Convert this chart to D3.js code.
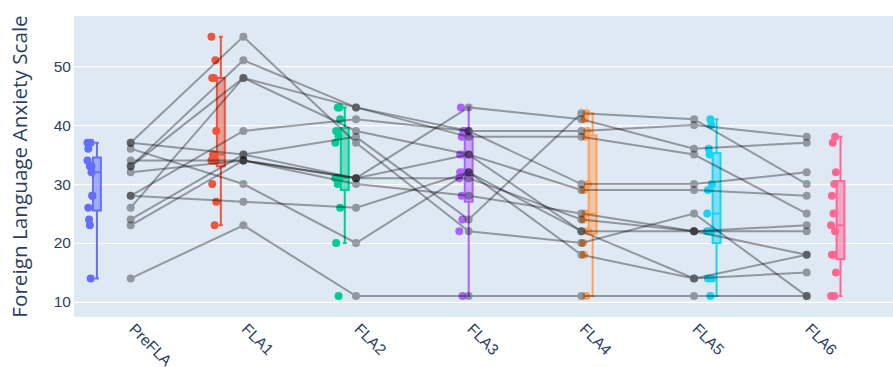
<!DOCTYPE html>
<html>
<head>
<meta charset="utf-8">
<script src="https://cdn.jsdelivr.net/npm/d3@7"></script>
<style>
body { margin: 0; background: #fff; }
svg { display: block; font-family: "Open Sans", verdana, arial, sans-serif; }
</style>
</head>
<body>
<svg id="chart" width="893" height="367"></svg>
<script>
const categories = ['PreFLA', 'FLA1', 'FLA2', 'FLA3', 'FLA4', 'FLA5', 'FLA6']
// one score per subject, same subject order in every array
const preFLA = [37, 33, 33, 26, 28, 37, 24, 34, 32, 23, 36, 28, 14]
const fla1 = [55, 51, 48, 48, 39, 35, 35, 34, 34, 34, 30, 27, 23]
const fla2 = [37, 43, 43, 39, 41, 38, 31, 31, 31, 30, 20, 26, 11]
const fla3 = [22, 39, 38, 35, 39, 24, 43, 31, 35, 28, 32, 32, 11]
const fla4 = [20, 39, 38, 29, 30, 42, 41, 24, 22, 25, 18, 22, 11]
const fla5 = [25, 40, 35, 29, 30, 41, 36, 22, 22, 22, 14, 14, 11]
const fla6 = [11, 38, 25, 28, 32, 30, 37, 23, 22, 18, 18, 15, 11]
const yTicks = [10, 20, 30, 40, 50]
const colors = ['#636efa', '#EF553B', '#00cc96', '#ab63fa', '#FFA15A', '#19d3f3', '#FF6692']

const series = [preFLA, fla1, fla2, fla3, fla4, fla5, fla6]
const nSubjects = preFLA.length

const svg = d3.select('#chart')
const plot = { left: 74, right: 893, top: 16, bottom: 317 }

const x = d3.scalePoint()
    .domain(categories)
    .range([130.7, 806.7])

const y = d3.scaleLinear()
    .domain([7.45, 58.5])
    .range([plot.bottom, plot.top])

svg.append('rect')
    .attr('x', plot.left)
    .attr('y', plot.top)
    .attr('width', plot.right - plot.left)
    .attr('height', plot.bottom - plot.top)
    .attr('fill', '#DFE9F4')

// y grid + labels
const yAxis = svg.append('g')
    .attr('transform', `translate(${plot.left}, 0)`)
    .call(d3.axisLeft(y).tickValues(yTicks).tickSize(-(plot.right - plot.left)).tickPadding(3))
yAxis.select('.domain').remove()
yAxis.selectAll('.tick line').attr('stroke', '#fff').attr('stroke-width', 1.2)
yAxis.selectAll('.tick text')
    .attr('fill', '#2a3f5f')
    .style('font-size', '15.5px')

// x labels, rotated 45deg
const xAxis = svg.append('g')
    .attr('transform', `translate(0, ${plot.bottom})`)
    .call(d3.axisBottom(x).tickSize(0))
xAxis.select('.domain').remove()
xAxis.selectAll('.tick text')
    .attr('fill', '#2a3f5f')
    .style('font-size', '15.5px')
    .attr('text-anchor', 'start')
    .attr('x', 0)
    .attr('y', 0)
    .attr('dy', 0)
    .attr('transform', 'translate(-3, 13) rotate(45)')

svg.append('text')
    .attr('transform', `translate(26.5, ${(plot.top + plot.bottom) / 2}) rotate(-90)`)
    .attr('text-anchor', 'middle')
    .attr('fill', '#2a3f5f')
    .style('font-size', '20.7px')
    .text('Foreign Language Anxiety Scale')

// plotly-style "linear" quartiles
const interp = (arr, p) => {
    const n = p * arr.length - 0.5
    if (n <= 0) return arr[0]
    if (n >= arr.length - 1) return arr[arr.length - 1]
    const f = n - Math.floor(n)
    return (1 - f) * arr[Math.floor(n)] + f * arr[Math.ceil(n)]
}

const step = x.step()
const slot = step * 0.7 / categories.length
const boxW = slot * 0.7

series.forEach((vals, k) => {
    const sorted = vals.slice().sort((a, b) => a - b)
    const q1 = interp(sorted, 0.25)
    const med = interp(sorted, 0.5)
    const q3 = interp(sorted, 0.75)
    const iqr = q3 - q1
    const lo = d3.min(sorted.filter(v => v >= q1 - 1.5 * iqr))
    const hi = d3.max(sorted.filter(v => v <= q3 + 1.5 * iqr))
    const cx = x(categories[k]) + (k - 3) * slot
    const c = colors[k]
    const g = svg.append('g')

    g.append('path')
        .attr('d', `M${cx},${y(q3)}V${y(hi)}M${cx - boxW / 4},${y(hi)}H${cx + boxW / 4}` +
            `M${cx},${y(q1)}V${y(lo)}M${cx - boxW / 4},${y(lo)}H${cx + boxW / 4}`)
        .attr('stroke', c)
        .attr('stroke-width', 2)
        .attr('fill', 'none')
    g.append('rect')
        .attr('x', cx - boxW / 2)
        .attr('y', y(q3))
        .attr('width', boxW)
        .attr('height', y(q1) - y(q3))
        .attr('fill', c)
        .attr('fill-opacity', 0.5)
        .attr('stroke', c)
        .attr('stroke-width', 2)
    g.append('line')
        .attr('x1', cx - boxW / 2).attr('x2', cx + boxW / 2)
        .attr('y1', y(med)).attr('y2', y(med))
        .attr('stroke', c)
        .attr('stroke-width', 2)

    g.selectAll('circle')
        .data(vals)
        .enter()
        .append('circle')
        .attr('cx', (d, i) => cx - 7 + ((i * 5) % 7 - 3) * 0.8)
        .attr('cy', d => y(d))
        .attr('r', 4)
        .attr('fill', c)
})

// individual subject trajectories
const subjects = d3.range(nSubjects).map(i => series.map((vals, k) => [categories[k], vals[i]]))
const line = d3.line().x(d => x(d[0])).y(d => y(d[1]))

const sg = svg.selectAll('.subject')
    .data(subjects)
    .enter()
    .append('g')
    .attr('class', 'subject')
    .attr('opacity', 0.35)

sg.append('path')
    .attr('d', line)
    .attr('fill', 'none')
    .attr('stroke', '#000')
    .attr('stroke-width', 2)

sg.selectAll('circle')
    .data(d => d)
    .enter()
    .append('circle')
    .attr('cx', d => x(d[0]))
    .attr('cy', d => y(d[1]))
    .attr('r', 4)
    .attr('fill', '#000')
</script>
</body>
</html>
